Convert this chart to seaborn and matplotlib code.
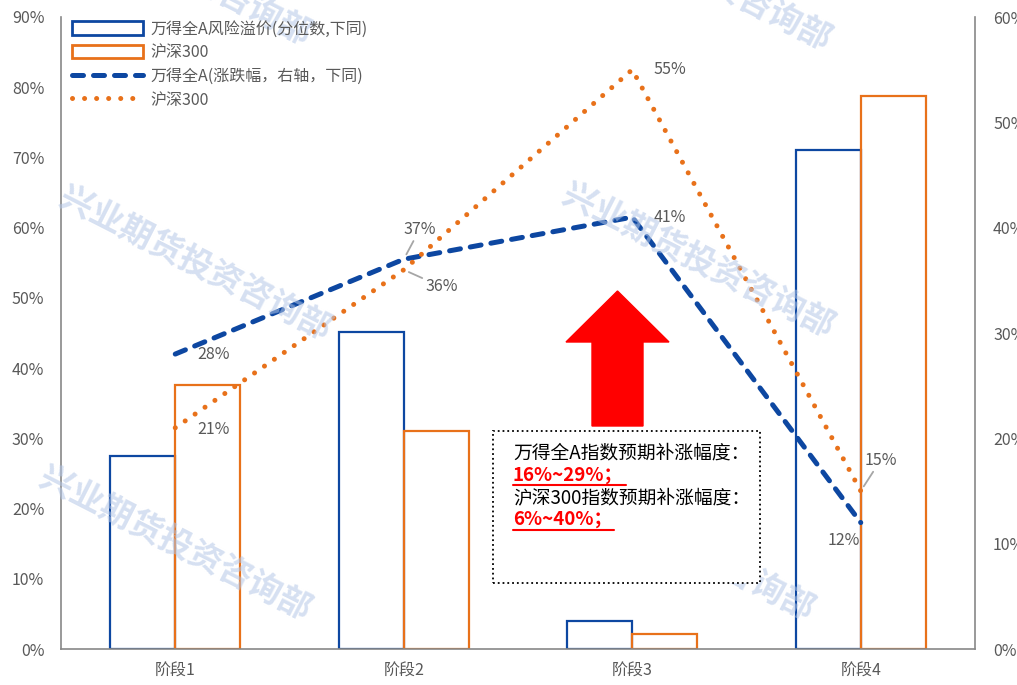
import numpy as np
import pandas as pd
import matplotlib.pyplot as plt
import seaborn as sns
from matplotlib.patches import Patch, Rectangle, FancyArrow
from matplotlib.lines import Line2D
from matplotlib.ticker import PercentFormatter

# 数据
stages = ["阶段1", "阶段2", "阶段3", "阶段4"]
premium_wind = [0.275, 0.451, 0.040, 0.711]      # 万得全A风险溢价(分位数)
premium_hs300 = [0.376, 0.311, 0.022, 0.787]     # 沪深300
chg_wind = [0.28, 0.37, 0.41, 0.12]              # 万得全A涨跌幅(右轴)
chg_hs300 = [0.21, 0.36, 0.55, 0.15]             # 沪深300涨跌幅(右轴)

bar_names = ["万得全A风险溢价(分位数,下同)", "沪深300"]
line_names = ["万得全A(涨跌幅，右轴，下同)", "沪深300"]

BLUE = "#0d47a1"
ORANGE = "#e8711a"
GRAY = "#595959"
W, H = 1017, 685

sns.set_theme(style="white")
plt.rcParams["font.family"] = ["Noto Sans CJK SC", "DejaVu Sans"]

df = pd.DataFrame({
    "阶段": stages * 2,
    "值": premium_wind + premium_hs300,
    "系列": [bar_names[0]] * 4 + [bar_names[1]] * 4,
})

fig = plt.figure(figsize=(W / 100, H / 100), dpi=100)
ax = fig.add_axes([61 / W, 1 - 649 / H, (975 - 61) / W, (649 - 17) / H])

sns.barplot(data=df, x="阶段", y="值", hue="系列", order=stages,
            hue_order=bar_names, palette={bar_names[0]: BLUE, bar_names[1]: ORANGE},
            fill=False, width=0.57, linewidth=1.6, legend=False, ax=ax, zorder=2)

ax.set_xlim(-0.5, 3.5)
ax.set_ylim(0, 0.9)
ax.set_yticks(np.arange(0, 0.91, 0.1))
ax.yaxis.set_major_formatter(PercentFormatter(1.0, decimals=0))
ax.set_xlabel("")
ax.set_ylabel("")
ax.tick_params(axis="y", length=0, pad=12, labelsize=11.5, labelcolor=GRAY)
ax.tick_params(axis="x", length=0, pad=10, labelsize=11.5, labelcolor=GRAY)
for s in ["top", "right"]:
    ax.spines[s].set_visible(False)
for s in ["left", "bottom"]:
    ax.spines[s].set_color("#888888")
    ax.spines[s].set_linewidth(1.2)

ax2 = ax.twinx()
x = np.arange(len(stages))
sns.lineplot(x=x, y=chg_wind, ax=ax2, color=BLUE, linewidth=3.6,
             dashes=False, zorder=3)
sns.lineplot(x=x, y=chg_hs300, ax=ax2, color=ORANGE, linewidth=3.6,
             dashes=False, zorder=3)
l_wind, l_hs = ax2.lines[0], ax2.lines[1]
l_wind.set_dashes((2.2, 2.0))
l_wind.set_dash_capstyle("round")
l_hs.set_dashes((0.01, 2.4))
l_hs.set_dash_capstyle("round")

ax2.set_ylim(0, 0.6)
ax2.set_xlim(-0.5, 3.5)
ax2.set_yticks(np.arange(0, 0.61, 0.1))
ax2.yaxis.set_major_formatter(PercentFormatter(1.0, decimals=0))
ax2.set_ylabel("")
ax2.tick_params(axis="y", length=0, pad=13, labelsize=11.5, labelcolor=GRAY)
for s in ["top", "left", "bottom"]:
    ax2.spines[s].set_visible(False)
ax2.spines["right"].set_color("#888888")
ax2.spines["right"].set_linewidth(1.2)

# 数据标签 (偏移像素)
lab_kw = dict(textcoords="offset pixels", ha="center", va="center",
              fontsize=11.5, color=GRAY, zorder=6)
lead = dict(arrowstyle="-", color="#a6a6a6", lw=1.3, shrinkA=0, shrinkB=4)
wind_off = [(38, 0), (16, 30), (38, 0), (-17, -18)]
hs_off = [(38, -2), (38, -17), (38, 0), (20, 31)]
for i, v in enumerate(chg_wind):
    kw = dict(lab_kw)
    if i == 1:
        kw["arrowprops"] = lead
    ax2.annotate(f"{v:.0%}", xy=(i, v), xytext=wind_off[i], **kw)
for i, v in enumerate(chg_hs300):
    kw = dict(lab_kw)
    if i in (1, 3):
        kw["arrowprops"] = lead
    ax2.annotate(f"{v:.0%}", xy=(i, v), xytext=hs_off[i], **kw)

# 图例
handles = [
    Patch(facecolor="white", edgecolor=BLUE, linewidth=2),
    Patch(facecolor="white", edgecolor=ORANGE, linewidth=2),
    Line2D([], [], color=BLUE, lw=3.6, dashes=(2.2, 2.0), dash_capstyle="round"),
    Line2D([], [], color=ORANGE, lw=3.6, dashes=(0.01, 2.4), dash_capstyle="round"),
]
fig.legend(handles, bar_names + line_names, loc="upper left",
           bbox_to_anchor=(66 / W, 1 - 14 / H), frameon=False, fontsize=11.5,
           labelcolor=GRAY, handlelength=4.4, handleheight=0.9, handletextpad=0.5,
           labelspacing=0.42, borderaxespad=0)

# 水印
for cx, cy in [(195, 265), (698, 262), (175, 545), (678, 545), (175, -30), (695, -25)]:
    fig.text(cx / W, 1 - cy / H, "兴业期货投资咨询部", rotation=-27, ha="center",
             va="center", fontsize=24, fontweight="bold", color="#b4c7e7",
             alpha=0.55, zorder=5)

# 红色箭头
fig.patches.append(FancyArrow(617.5 / W, 1 - 426 / H, 0, (426 - 291) / H,
                              width=51 / W, head_width=103 / W, head_length=51 / H,
                              length_includes_head=True, color="#ff0000",
                              transform=fig.transFigure, zorder=8))

# 文本框
fig.patches.append(Rectangle((493 / W, 1 - 583 / H), 267 / W, 152 / H,
                             facecolor="white", edgecolor="black", linestyle=":",
                             linewidth=1.3, transform=fig.transFigure, zorder=8))
tx = 513 / W
box_lines = [
    ("万得全A指数预期补涨幅度：", 453, "black", "normal"),
    ("16%~29%；", 475, "#ff0000", "bold"),
    ("沪深300指数预期补涨幅度：", 498, "black", "normal"),
    ("6%~40%；", 519, "#ff0000", "bold"),
]
for txt, py, c, fw in box_lines:
    fig.text(tx, 1 - py / H, txt, ha="left", va="center", fontsize=13.5,
             color=c, fontweight=fw, zorder=9)
for py, x1 in [(485, 626), (530, 614)]:
    fig.add_artist(Line2D([tx, x1 / W], [1 - py / H, 1 - py / H], color="#ff0000",
                          lw=1.5, transform=fig.transFigure, zorder=9))

fig.savefig("out.png", dpi=100)
